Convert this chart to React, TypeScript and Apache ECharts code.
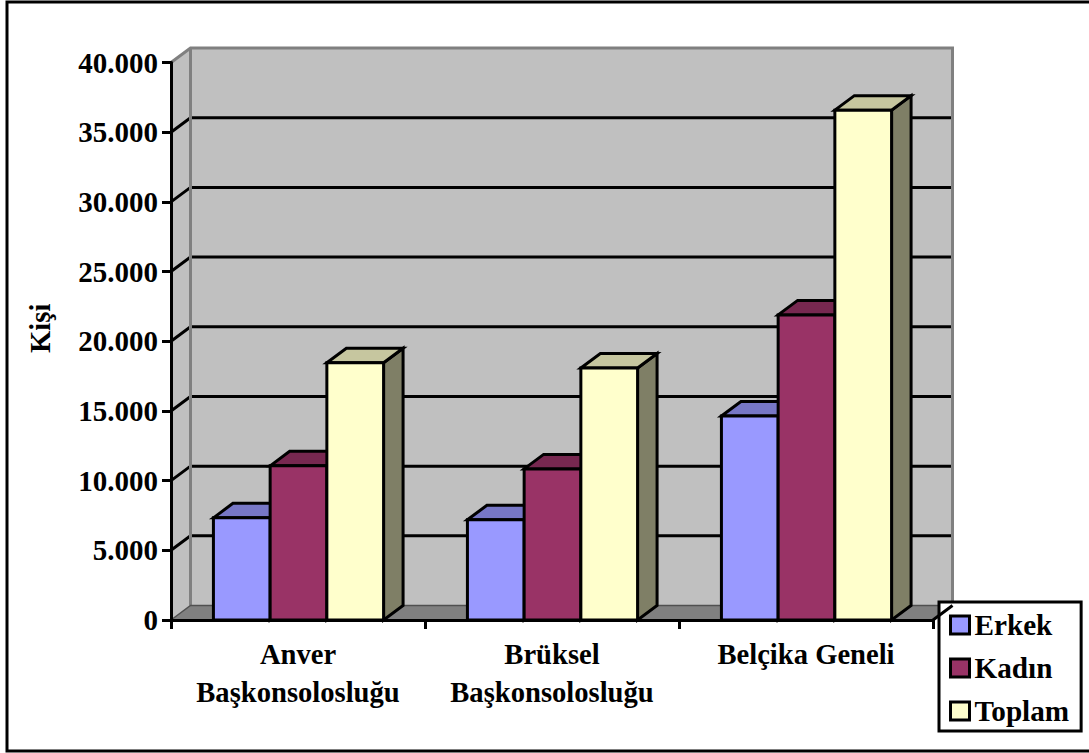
import React, { useEffect, useRef } from "react";
import * as echarts from "echarts";

const categories = ["Anver\nBaşkonsolosluğu", "Brüksel\nBaşkonsolosluğu", "Belçika Geneli"];
const erkek = [7330, 7190, 14640];
const kadin = [11060, 10840, 21890];
const toplam = [18460, 18080, 36580];
const gridValues = [5000, 10000, 15000, 20000, 25000, 30000, 35000];

const FONT = "'Liberation Serif', 'Times New Roman', serif";
const DX = 19.5;
const DY = -14.5;
const LW = 3;

function wallItem(params: any, api: any) {
  const cs = params.coordSys;
  const left = cs.x;
  const right = cs.x + cs.width;
  const top = cs.y;
  const bottom = cs.y + cs.height;
  const children: any[] = [];
  children.push({
    type: "polygon",
    shape: { points: [[left, top], [left + DX, top + DY], [left + DX, bottom + DY], [left, bottom]] },
    style: { fill: "#C0C0C0" },
  });
  children.push({
    type: "rect",
    shape: { x: left + DX, y: top + DY, width: cs.width, height: cs.height },
    style: { fill: "#C0C0C0" },
  });
  children.push({
    type: "polygon",
    shape: { points: [[left, bottom], [left + DX, bottom + DY], [right + DX, bottom + DY], [right, bottom]] },
    style: { fill: "#808080" },
  });
  gridValues.forEach((v) => {
    const y = api.coord([0, v])[1];
    children.push({
      type: "polyline",
      shape: { points: [[left, y], [left + DX, y + DY], [right + DX, y + DY]] },
      style: { fill: "none", stroke: "#000", lineWidth: LW },
    });
  });
  children.push({
    type: "polyline",
    shape: { points: [[left, top], [left + DX, top + DY], [right + DX, top + DY], [right + DX, bottom + DY]] },
    style: { fill: "none", stroke: "#808080", lineWidth: LW },
  });
  children.push({
    type: "line",
    shape: { x1: left + DX, y1: top + DY, x2: left + DX, y2: bottom + DY },
    style: { stroke: "#808080", lineWidth: LW },
  });
  children.push({
    type: "polyline",
    shape: { points: [[left, bottom], [left + DX, bottom + DY], [right + DX, bottom + DY]] },
    style: { fill: "none", stroke: "#505050", lineWidth: 1.5 },
  });
  return { type: "group", children };
}

function edgeItem(params: any) {
  const cs = params.coordSys;
  const right = cs.x + cs.width;
  const bottom = cs.y + cs.height;
  return {
    type: "line",
    shape: { x1: right, y1: bottom, x2: right + DX, y2: bottom + DY },
    style: { stroke: "#000", lineWidth: LW },
  };
}

function barSeries(name: string, values: number[], slot: number, face: string, topFace: string, side: string) {
  return {
    name,
    type: "custom",
    z: 2,
    silent: true,
    itemStyle: { color: face },
    encode: { x: 0, y: 1 },
    data: values.map((v, i) => [i, v]),
    renderItem: (_p: any, api: any) => {
      const i = api.value(0);
      const [cx, yTop] = api.coord([i, api.value(1)]);
      const yBase = api.coord([i, 0])[1];
      const band = api.size([1, 0])[0];
      const w = band * 0.2233;
      const x0 = cx + (slot - 1.5) * w + 0.5;
      const x1 = x0 + w;
      const stroke = { stroke: "#000", lineWidth: LW, lineJoin: "miter" };
      return {
        type: "group",
        children: [
          {
            type: "polygon",
            shape: { points: [[x1, yTop], [x1 + DX, yTop + DY], [x1 + DX, yBase + DY], [x1, yBase]] },
            style: { fill: side, ...stroke },
          },
          {
            type: "polygon",
            shape: { points: [[x0, yTop], [x0 + DX, yTop + DY], [x1 + DX, yTop + DY], [x1, yTop]] },
            style: { fill: topFace, ...stroke },
          },
          {
            type: "rect",
            shape: { x: x0, y: yTop, width: w, height: yBase - yTop },
            style: { fill: face, ...stroke },
          },
        ],
      };
    },
  };
}

export default function App() {
  const ref = useRef<HTMLDivElement>(null);
  useEffect(() => {
    const chart = echarts.init(ref.current!, undefined, { renderer: "svg" });
    const text = { fontFamily: FONT, fontWeight: "bold" as const, fontSize: 28.6, color: "#000" };
    chart.setOption({
      animation: false,
      backgroundColor: "#fff",
      textStyle: { fontFamily: FONT },
      grid: { left: 171, top: 62.5, width: 762, height: 557.5, containLabel: false },
      xAxis: {
        type: "category",
        data: categories,
        z: 3,
        boundaryGap: true,
        axisLine: { lineStyle: { color: "#000", width: LW } },
        axisTick: { show: true, alignWithLabel: false, length: 9, lineStyle: { color: "#000", width: LW } },
        axisLabel: { ...text, interval: 0, margin: 15, lineHeight: 38 },
        splitLine: { show: false },
      },
      yAxis: {
        type: "value",
        min: 0,
        max: 40000,
        interval: 5000,
        z: 3,
        name: "Kişi",
        nameLocation: "middle",
        nameRotate: 90,
        nameGap: 116,
        nameTextStyle: { ...text, padding: [0, 0, 0, 26] },
        axisLine: { show: true, lineStyle: { color: "#000", width: LW } },
        axisTick: { show: true, length: 9, lineStyle: { color: "#000", width: LW } },
        axisLabel: {
          ...text,
          fontSize: 29,
          margin: 13,
          formatter: (v: number) => (v === 0 ? "0" : `${v / 1000}.000`),
        },
        splitLine: { show: false },
      },
      legend: {
        orient: "vertical",
        left: 939,
        top: 602,
        data: ["Erkek", "Kadın", "Toplam"],
        icon: "rect",
        itemWidth: 19,
        itemHeight: 18,
        itemGap: 13,
        padding: [8, 12, 5, 10],
        backgroundColor: "#fff",
        borderColor: "#000",
        borderWidth: 3,
        selectedMode: false,
        itemStyle: { borderColor: "#000", borderWidth: 3 },
        textStyle: { ...text, fontSize: 29.2, lineHeight: 30, padding: [0, 0, 0, 0] },
      },
      graphic: [
        {
          type: "polyline",
          z: 0,
          silent: true,
          shape: { points: [[1089, 2], [7, 2], [7, 751], [1089, 751]] },
          style: { fill: "none", stroke: "#000", lineWidth: 3 },
        },
      ],
      series: [
        { name: "wall", type: "custom", z: 1, silent: true, data: [[0, 0]], encode: { x: 0, y: 1 }, renderItem: wallItem },
        barSeries("Erkek", erkek, 0, "#9999FF", "#7777C6", "#6B6BB3"),
        barSeries("Kadın", kadin, 1, "#993366", "#772850", "#6B2447"),
        barSeries("Toplam", toplam, 2, "#FFFFCC", "#C6C69F", "#7F7F66"),
        { name: "edge", type: "custom", z: 10, silent: true, data: [[0, 0]], encode: { x: 0, y: 1 }, renderItem: edgeItem },
      ],
    });
    return () => chart.dispose();
  }, []);
  return <div ref={ref} style={{ position: "absolute", left: 0, top: 0, width: 1089, height: 753 }} />;
}
